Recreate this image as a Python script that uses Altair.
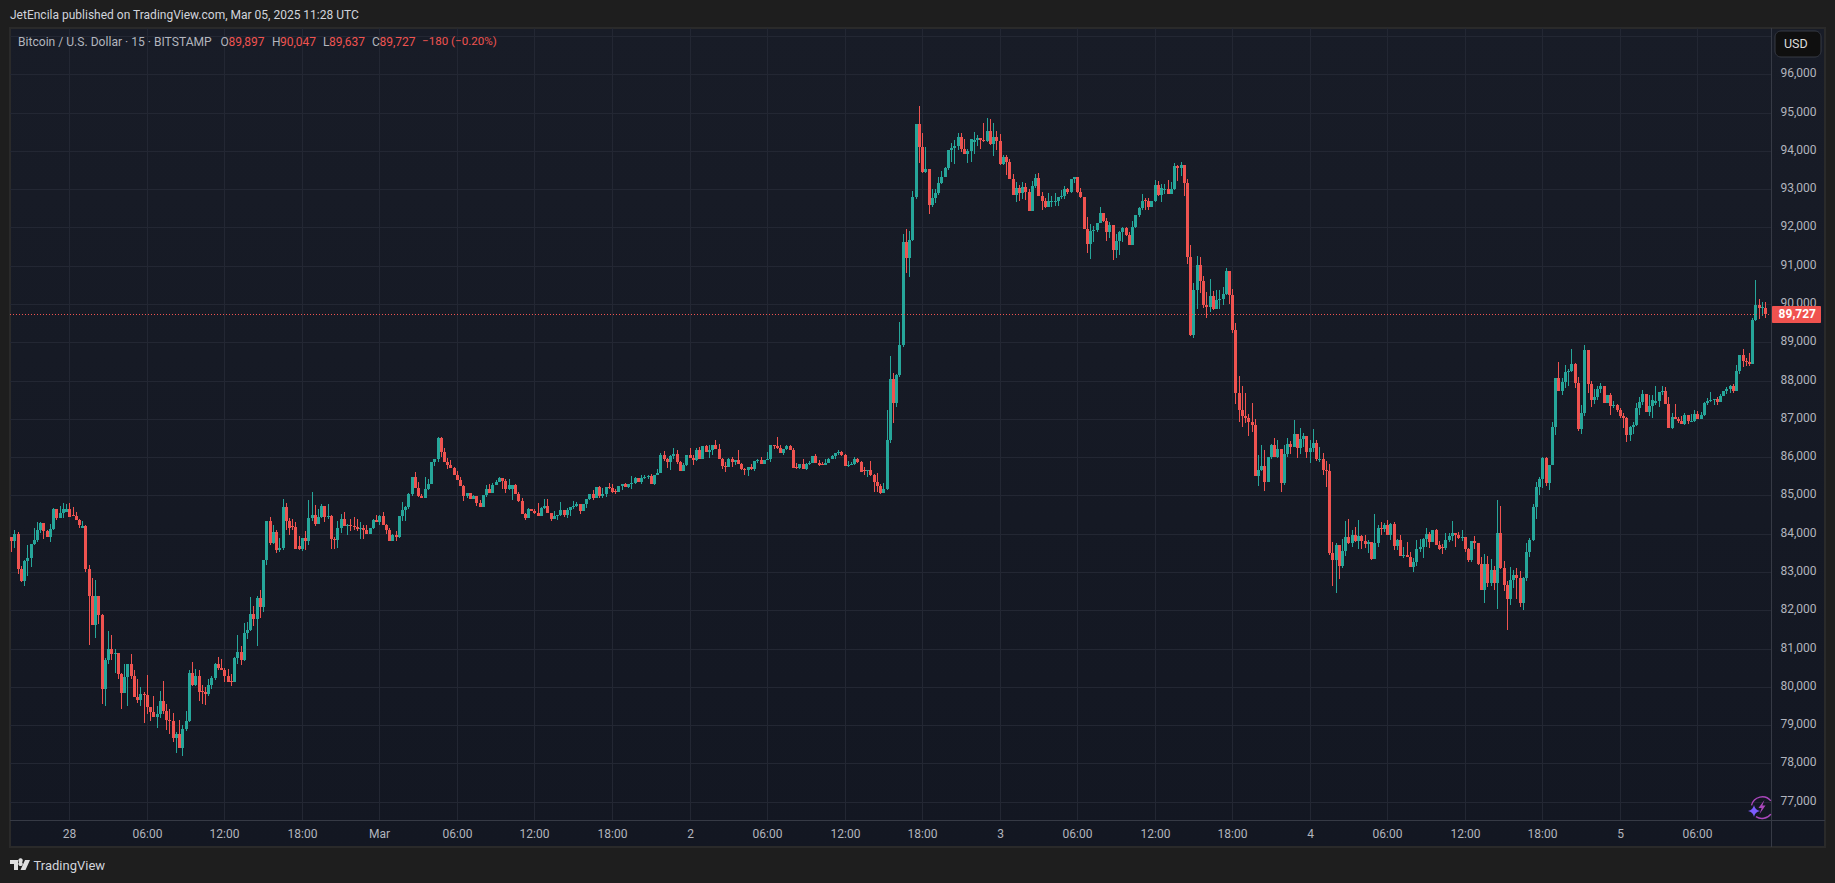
import json
import altair as alt
import pandas as pd

# ---------- series (15-minute bars, index 0 = 28 Feb 00:00) ----------
first_bar = -18
first_open = 83911
closes = [
83806,83989,83075,82761,83284,83362,83719,83824,84094,84277,84076,83911,84120,84643,84407,84538,84643,84643,
84434,84460,84355,84224,84198,83075,82369,81611,82369,81873,
79939,80697,80984,80854,80880,80331,79835,80253,80592,80279,
79730,79652,79808,79791,79469,79338,79208,79286,79626,79364,
79129,79094,78659,78763,78398,78894,79103,80357,80043,80279,
79861,79861,79808,80043,80226,80592,80488,80435,80279,80122,
80122,80749,80906,80697,81402,81481,81899,81768,82317,82082,
83310,84329,83754,84042,83571,83623,84695,84329,84146,84180,
83597,83597,83892,83805,84406,84484,84240,84432,84710,84432,
84458,83857,83831,84144,84379,84196,84223,84196,84179,84118,
84144,84092,83988,84144,84353,84301,84458,84223,84092,83805,
83961,83909,84458,84615,84693,85033,85477,85189,84980,84928,
85163,85294,85869,85947,86496,86130,85869,85790,85712,85529,
85398,85242,84980,85059,84902,84980,84798,84693,85006,85163,
85059,85268,85346,85451,85372,85163,85268,85268,85033,84850,
84510,84406,84641,84588,84536,84458,84667,84719,84536,84379,
84458,84484,84615,84484,84615,84693,84719,84771,84588,84771,
84902,85033,84928,85216,84980,85035,85209,85183,85078,85078,
85244,85296,85209,85296,85322,85453,85348,85453,85479,85505,
85296,85532,85575,86054,85949,85871,86028,86080,85871,85636,
85793,86054,85975,85923,86184,85949,86289,86132,86184,86315,
86211,85949,85766,85740,85949,85871,85923,85819,85688,85662,
85740,85688,85897,85923,85819,85923,85949,86315,86289,86237,
86106,86211,86289,86184,85714,85714,85819,85688,85819,85845,
86028,85845,85792,85792,85845,85949,86028,86106,86132,86054,
85766,85792,85819,85949,85871,85610,85636,85662,85532,85348,
85244,85061,85165,86446,88040,87413,88144,88928,91611,91193,
91664,92787,94695,94094,93441,93519,92578,92761,92892,93153,
93310,93545,94016,94068,94120,94355,94042,93911,93989,94303,
94277,94329,94277,94251,94512,94172,94355,94251,93650,93833,
93702,93258,92840,93023,92892,93049,92918,92422,93075,93284,
92814,92683,92526,92683,92683,92683,92787,92814,92996,92918,
93258,93310,92918,92787,91951,91559,91899,91925,92108,92369,
92160,91873,92056,91402,91638,91873,91977,91795,91533,92004,
92317,92500,92683,92683,92526,92683,93101,92840,93023,92996,
92866,92996,93597,93545,93624,93153,91227,89187,90363,91016,
90598,89971,89919,90206,89866,90102,90128,90258,90859,90232,
89318,87671,87227,87070,87018,86914,86835,85503,85659,85764,
85346,86000,86313,86000,86208,85320,86078,86339,86260,86600,
86234,86469,86548,86130,86234,86365,85947,85947,85659,85633,
83491,83308,83700,83151,83543,83909,83752,83961,83804,83935,
83804,83726,83778,83334,83752,84144,84118,84222,83961,84248,
83674,83830,83412,83439,83386,83125,83256,83595,83648,83857,
83987,83778,84092,83700,83595,83621,83830,83935,84013,83961,
83883,83909,83595,83308,83804,83752,83203,82524,83203,82707,
83058,82718,84025,83110,82666,82300,82797,82927,82849,82196,
82849,83528,83842,84704,85227,85436,85985,85331,85802,86795,
88075,87735,87970,88232,88258,88441,87944,86742,87160,88807,
87918,87500,87578,87788,87866,87422,87631,87343,87370,87239,
87082,87030,86586,86795,86847,87291,87448,87657,87187,87343,
87500,87474,87709,87735,87395,86768,87056,87004,86951,86873,
87108,86951,86951,87134,87004,87108,87422,87474,87500,87526,
87448,87605,87735,87788,87866,87735,88258,88676,88519,88493,
88441,89590,89982,89904,89930,89727,
]
highs = [
83911,84085,84033,83153,83310,83702,83719,84146,84303,84303,84277,84094,84250,84669,84643,84721,84799,84773,
84799,84695,84564,84381,84329,84224,83171,82840,82787,82369,
81899,80749,81455,81350,80984,80828,80357,80592,80592,80854,
80435,80200,79991,79861,80305,79469,79756,79495,79887,80148,
79547,79417,79312,78816,79129,79000,79364,80435,80645,80462,
80435,80043,79991,80200,80279,80618,80775,80723,80488,80462,
80331,80775,81350,81063,81664,81690,82343,82108,82369,82526,
83310,84329,84434,84224,84094,83885,84904,84799,84407,84381,
84303,83937,83892,84066,84876,85085,84745,84640,84771,84710,
84771,84484,83900,84327,84510,84562,84249,84379,84432,84379,
84301,84223,84223,84144,84379,84484,84484,84562,84249,84144,
83988,84066,84458,84824,84719,85059,85477,85608,85346,85033,
85477,85425,85869,85947,86522,86522,86235,85973,85921,85738,
85634,85477,85268,85059,85059,85006,84980,84876,85006,85268,
85294,85320,85398,85477,85451,85425,85425,85268,85294,85085,
84928,84536,84667,84641,84641,84798,84693,84902,84902,84536,
84588,84484,84824,84615,84667,84693,84850,84824,84771,84771,
84902,85033,85137,85216,85242,85183,85226,85314,85296,85165,
85244,85296,85322,85296,85505,85479,85348,85532,85532,85532,
85558,85532,85688,86097,86158,85975,86054,86237,86184,85897,
85845,86054,86237,86054,86237,86263,86289,86315,86315,86315,
86446,86341,85975,85871,85975,86002,85923,86184,85845,85714,
85740,85819,85897,85949,86002,85923,86132,86315,86315,86524,
86315,86211,86315,86315,86237,85845,85819,85949,85845,85897,
86028,86080,85923,85871,85949,85975,86054,86106,86184,86158,
86080,85897,85871,86002,85975,85897,85740,85662,85897,85558,
85584,85296,85322,87230,88641,88197,88170,89537,91838,91951,
91899,92944,94695,95165,94460,94094,93519,92996,92996,93310,
93467,93571,94016,94198,94277,94460,94460,94303,94042,94303,
94486,94407,94329,94721,94852,94826,94721,94512,94434,93885,
93885,93780,93388,93179,93101,93179,93153,92996,93205,93388,
93414,92918,92761,92892,92814,92892,92787,92970,93075,93023,
93258,93310,93310,93023,92787,92265,92082,92030,92108,92526,
92317,92239,92134,91977,91821,91899,92004,92004,91873,92160,
92317,92526,92866,92761,92761,92683,93232,93205,93127,93127,
93232,93179,93676,93624,93702,93624,93258,91539,90546,91251,
91225,90729,90311,90650,90337,90363,90363,90441,90938,90833,
90389,89500,88116,87854,87671,87123,87410,86992,86052,86313,
86182,86000,86339,86496,86443,86182,86313,86496,86417,86966,
86600,86757,86626,86522,86443,86731,86443,86260,86104,85895,
85816,83778,83752,83700,83857,84327,84379,84092,84170,84353,
83961,83961,83830,83726,84510,84222,84301,84274,84353,84274,
84301,83857,83961,83648,83778,83517,83360,83830,83857,83883,
84144,84039,84092,84118,83804,83726,84013,84013,84327,84013,
84039,84092,83909,83621,83804,83935,83726,83386,83465,83412,
83345,83163,84887,84730,83293,82770,83136,83058,83110,83032,
82875,83764,83894,84783,85357,85488,86011,86011,85802,86925,
88075,88493,88075,88415,88310,88833,88467,88101,87370,88937,
88807,87997,87788,87866,87944,87866,87631,87683,87474,87396,
87291,87160,87056,86821,86925,87422,87579,87761,87657,87631,
87631,87866,87709,87866,87840,87579,87160,87396,87056,87082,
87160,87108,87134,87239,87213,87186,87448,87552,87709,87526,
87579,87657,87735,87840,87892,87918,88415,88676,88833,88598,
88728,89643,90636,90139,90061,90047,
]
lows = [
83528,83632,82953,82744,82639,82900,83127,83702,83789,84015,83859,83911,83780,84094,84355,84407,84407,84564,
84434,84460,84355,84146,84146,82996,81089,81611,81272,81638,
79547,79495,80592,80697,80357,80200,79417,79913,79495,80200,
79730,79573,79495,79051,79286,79103,79208,78920,79181,79286,
78868,78763,78554,78267,78398,78188,78842,79077,80017,80017,
79626,79547,79521,79756,79939,80174,80435,80435,80122,80122,
80017,80122,80592,80566,80671,81246,81455,81585,81063,81794,
81951,83179,83702,83728,83493,83519,83571,84094,83963,84094,
83597,83571,83552,83570,83700,84336,84205,84258,84405,84301,
84379,83595,83595,83622,84014,84196,83961,84066,84092,84066,
83857,83857,83988,83988,84118,84301,84223,84223,83988,83805,
83805,83805,83883,84327,84327,84641,84980,85189,84954,84928,
84928,85137,85294,85764,85869,85999,85869,85686,85712,85529,
85398,85242,84850,84928,84902,84902,84719,84693,84693,84954,
85059,85059,85268,85346,85163,85059,85137,84876,85033,84824,
84510,84353,84406,84588,84510,84458,84458,84641,84536,84327,
84379,84353,84458,84432,84405,84458,84641,84693,84510,84588,
84667,84876,84876,84928,84928,84930,84965,85157,85052,85035,
85087,85139,85209,85183,85165,85296,85348,85296,85427,85427,
85296,85270,85575,85575,85897,85714,85662,85949,85819,85636,
85636,85766,85975,85792,85897,85949,85975,86132,85975,86054,
86211,85949,85688,85610,85741,85741,85792,85819,85662,85532,
85505,85662,85636,85845,85819,85819,85923,85871,86211,86211,
86106,86054,86184,86184,85714,85688,85688,85688,85662,85792,
85845,85845,85766,85792,85792,85845,85949,85949,86054,86028,
85766,85741,85792,85792,85845,85610,85532,85479,85505,85087,
85087,85035,85061,85139,86367,86890,87308,88100,88880,90800,
90710,91638,92735,93676,93415,93415,92343,92526,92631,92840,
93127,93310,93493,93702,93650,94016,93963,93911,93676,93702,
93911,94120,94042,94225,94225,94146,93859,94016,93624,93624,
93362,93258,92840,92657,92683,92735,92709,92422,92422,93023,
92814,92448,92500,92526,92526,92552,92552,92735,92735,92866,
92892,93153,92892,92761,91951,91324,91167,91612,91873,92108,
92134,91638,91716,91141,91193,91272,91612,91768,91533,91533,
91977,92265,92448,92448,92448,92526,92657,92814,92657,92866,
92866,92866,92970,93205,93336,92814,91054,89161,89109,89866,
90284,89892,89631,89788,89840,89971,89866,89971,90232,89997,
89240,87384,86914,86783,86888,86548,86652,85503,85241,85633,
85111,85346,85947,86000,85973,85085,85268,86000,86078,86260,
85973,86078,86260,85973,85842,86130,85895,85869,85529,85215,
83439,82628,82445,82811,83099,83412,83726,83648,83778,83595,
83595,83621,83491,83308,83334,83648,83961,84039,83961,83830,
83569,83569,83412,83360,83386,83125,82995,83151,83517,83360,
83648,83621,83778,83700,83569,83465,83569,83778,83804,83648,
83857,83804,83517,83255,83255,83595,83177,82524,82184,82602,
82640,82535,82039,83084,82509,81490,82144,82588,82300,82092,
82013,82770,83398,83816,84391,85018,85201,85253,85149,85802,
86586,87735,87631,87814,87866,88232,87814,86690,86612,87082,
87683,87317,87396,87500,87683,87422,87448,87108,87291,87186,
87030,86768,86403,86429,86612,86821,87108,87370,87187,87082,
87030,87370,87317,87631,87395,86768,86742,87004,86899,86873,
86847,86873,86925,86925,87004,87004,87082,87370,87448,87370,
87370,87500,87605,87657,87683,87683,87735,88179,88362,88389,
88389,88441,89564,89617,89695,89637,
]
# bars whose open visibly differs from the previous close
open_bars = [-1,1,4,41,50,69,71,137,169,225,233,246,280,304,305,333,339,387,425,491,502,525]
open_vals = [84564,84486,84146,79887,80148,84198,83676,85163,85104,85740,85819,85662,94225,92657,92657,92709,92970,85921,83647,87422,86925,89897]

price_grid = [77000,78000,79000,80000,81000,82000,83000,84000,85000,86000,87000,88000,89000,90000,91000,92000,93000,94000,95000,96000,97000]
price_labels = price_grid[:-1]
time_ticks = [0,6,12,18,24,30,36,42,48,54,60,66,72,78,84,90,96,102,108,114,120,126]
time_labels = ["28","06:00","12:00","18:00","Mar","06:00","12:00","18:00","2","06:00","12:00","18:00","3","06:00","12:00","18:00","4","06:00","12:00","18:00","5","06:00"]
last_price = 89727
last_label = "89,727"
publisher = "JetEncila published on TradingView.com, Mar 05, 2025 11:28 UTC"
symbol = "Bitcoin / U.S. Dollar · 15 · BITSTAMP"
ohlc_names = ["O","H","L","C"]
ohlc_values = ["89,897","90,047","89,637","89,727"]
change = "−180 (−0.20%)"

# ---------- table ----------
idx = [first_bar + k for k in range(len(closes))]
opens = [first_open] + closes[:-1]
for b, v in zip(open_bars, open_vals):
    opens[b - first_bar] = v
df = pd.DataFrame({"bar": idx, "open": opens, "high": highs, "low": lows, "close": closes})
df["hour"] = df["bar"] * 0.25
df["dir"] = ["up" if c >= o else "down" for o, c in zip(df["open"], df["close"])]

# ---------- layout ----------
FONT = "Roboto"
GREEN, RED = "#26a69a", "#ef5350"
PLOT_W, PLOT_H = 1761, 792
x_scale = alt.Scale(domain=[-4.59, 131.70], range=[0, PLOT_W], round=True, padding=0)
y_scale = alt.Scale(domain=[76520, 97209], range=[PLOT_H, 0], zero=False, nice=False, round=True)
x_axis = alt.Axis(values=time_ticks, labelExpr=json.dumps(time_labels) + "[round(datum.value/6)]", title=None,
                  grid=False, domain=False, ticks=False, labelColor="#b2b5be", labelFont=FONT, labelFontSize=12,
                  labelPadding=-14, labelBaseline="middle", labelOverlap=False, labelFlush=False, labelBound=False)
y_axis = alt.Axis(values=price_labels, format=",d", orient="right", title=None, grid=False, domain=False, ticks=False,
                  labelColor="#b2b5be", labelFont=FONT, labelFontSize=12, labelAlign="right", labelOffset=-2,
                  labelPadding=-9, labelBaseline="middle", labelOverlap=False, labelFlush=False, labelBound=False)


def X(field):
    return alt.X(field + ":Q", scale=x_scale, axis=x_axis)


def Y(field):
    return alt.Y(field + ":Q", scale=y_scale, axis=y_axis)


one = pd.DataFrame({"a": [0]})
GRID = "#232733"
dir_color = alt.Color("dir:N", scale=alt.Scale(domain=["up", "down"], range=[GREEN, RED]), legend=None)


def label(text, x, y, color="#b2b5be", size=12, align="left", weight="normal"):
    return alt.Chart(pd.DataFrame({"t": [text]})).mark_text(
        align=align, baseline="middle", color=color, font=FONT, fontSize=size, fontWeight=weight
    ).encode(text="t:N", x=alt.value(x), y=alt.value(y))


def box(x, x2, y, y2, fill, **kw):
    return alt.Chart(one).mark_rect(fill=fill, **kw).encode(
        x=alt.value(x), x2=alt.value(x2), y=alt.value(y), y2=alt.value(y2))


grid_h = alt.Chart(pd.DataFrame({"p": price_grid})).mark_rule(color=GRID, strokeWidth=1, yOffset=0.5).encode(
    y=Y("p"), x=alt.value(0), x2=alt.value(PLOT_W))
grid_v = alt.Chart(pd.DataFrame({"h": time_ticks})).mark_rule(color=GRID, strokeWidth=1, xOffset=0.5).encode(
    x=X("h"), y=alt.value(0), y2=alt.value(PLOT_H))
wicks = alt.Chart(df).mark_rule(strokeWidth=1, xOffset=0.5).encode(
    x=X("hour"), y=Y("low"), y2="high:Q", color=dir_color)
bodies = alt.Chart(df).mark_bar(size=3, orient="vertical", xOffset=0.5, minBandSize=1).encode(
    x=X("hour"), y=Y("open"), y2="close:Q", color=dir_color)
last_line = alt.Chart(pd.DataFrame({"p": [last_price]})).mark_rule(
    color=RED, strokeWidth=1, strokeDash=[1, 2], yOffset=0.5).encode(
    y=Y("p"), x=alt.value(0), x2=alt.value(PLOT_W))
axis_v = box(PLOT_W, PLOT_W + 1, 0, 819, "#363a45")
axis_h = box(0, 1815, PLOT_H, PLOT_H + 1, "#363a45")
tag = box(PLOT_W + 1, PLOT_W + 50, 278, 295, "#f0524f", cornerRadius=1)
tag_text = alt.Chart(pd.DataFrame({"p": [last_price], "t": [last_label]})).mark_text(
    align="right", baseline="middle", color="#ffffff", font=FONT, fontSize=12, fontWeight="bold").encode(
    text="t:N", x=alt.value(1806), y=Y("p"))
usd_box = box(1765, 1811, 3, 29, "#0f0f0f", cornerRadius=6, stroke="#363a45", strokeWidth=1)

layers = [grid_h, grid_v, wicks, bodies, last_line, axis_v, axis_h, tag, tag_text, usd_box,
          label("USD", 1774, 16, "#dbdbdb", 12.5),
          label(publisher, 0, -13, "#d1d4dc", 12),
          label(symbol, 8, 14, "#b2b5be", 12.1)]
for name, value, xn, xv in zip(ohlc_names, ohlc_values, [210.5, 262, 313, 362], [218.5, 270, 319, 369.5]):
    layers.append(label(name, xn, 14))
    layers.append(label(value, xv, 14, RED))
layers.append(label(change, 412, 14, RED, 11.6))

# TradingView mark and wordmark
logo = alt.Chart(one).mark_point(
    filled=True, fill="#e0e0e0", opacity=1, strokeWidth=0, size=400,
    shape="M-1,-0.5 H-0.2 V0.5 H-0.6 V-0.1 H-1 Z M0.5,-0.5 H1 L0.55,0.5 H0.05 Z M0.2,-0.28 A0.22,0.22 0 1 1 -0.09,-0.28 A0.22,0.22 0 1 1 0.2,-0.28 Z"
).encode(x=alt.value(10), y=alt.value(837))
layers.append(logo)
layers.append(label("TradingView", 23.5, 838, "#d1d4dc", 13))

# spark icon at the lower right
ring = alt.Chart(one).mark_point(
    filled=False, stroke="#ab47bc", strokeWidth=1.4, opacity=1, size=484,
    shape="M-0.95,-0.2 A1,1 0 0 1 0.8,-0.6 M-0.55,0.83 A1,1 0 0 0 0.8,0.6"
).encode(x=alt.value(1752), y=alt.value(779.5))
bolt = alt.Chart(one).mark_point(
    filled=True, fill="#ab47bc", opacity=1, strokeWidth=0, size=196,
    shape="M0.35,-1 L-0.5,0.15 H-0.05 L-0.35,1 L0.5,-0.2 H0.05 Z"
).encode(x=alt.value(1752), y=alt.value(779))
star = alt.Chart(one).mark_point(
    filled=True, fill="#7c5cff", opacity=1, strokeWidth=0, size=144,
    shape="M0,-1 Q0.15,-0.15 1,0 Q0.15,0.15 0,1 Q-0.15,0.15 -1,0 Q-0.15,-0.15 0,-1 Z"
).encode(x=alt.value(1744), y=alt.value(783))
layers += [ring, bolt, star]

gradient = ("{gradient:'linear',x1:0,y1:0,x2:0,y2:1,stops:["
            "{offset:0,color:'#181c27'},{offset:1,color:'#131722'}]}")
chart = alt.layer(*layers).properties(
    width=1815, height=819,
    padding={"left": 10, "top": 28, "right": 10, "bottom": 36},
    autosize=alt.AutoSizeParams(type="none"),
    background="#1e1e1e",
    view={"fill": {"expr": gradient}, "stroke": "#2a2a2a", "strokeWidth": 2},
)

chart.save("out.html", embed_options={
    "renderer": "svg", "actions": False,
    "defaultStyle": "html,body{margin:0;padding:0;overflow:hidden;background:#1e1e1e}"})
